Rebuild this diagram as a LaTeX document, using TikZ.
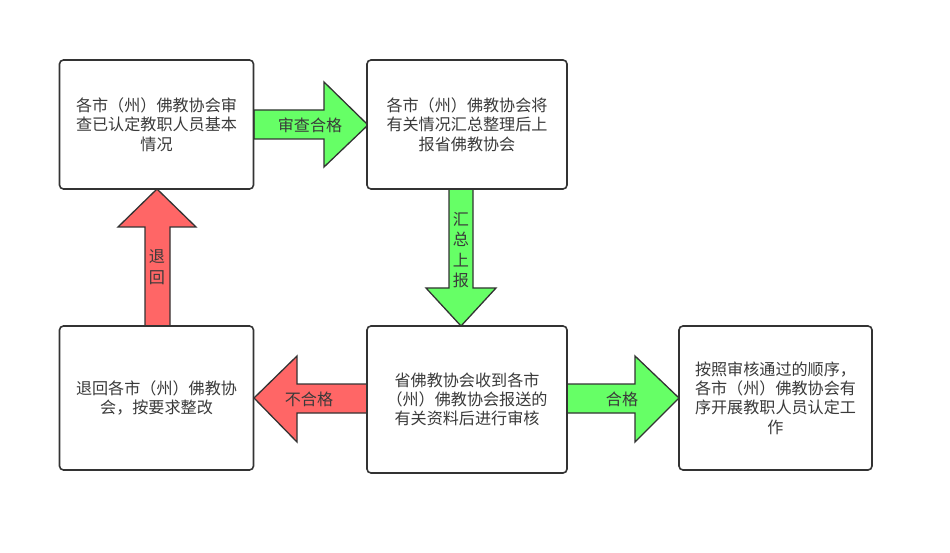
\documentclass[tikz,border=0pt]{standalone}
\usepackage{fontspec}
\newfontfamily\cjk{Noto Sans CJK SC}
\definecolor{linec}{HTML}{333333}
\definecolor{textc}{HTML}{3A3A3A}
\definecolor{greenf}{HTML}{66FF66}
\definecolor{redf}{HTML}{FF6666}
\begin{document}
\begin{tikzpicture}[x=1pt,y=-1pt,
  box/.style={draw=linec, line width=1.6pt, fill=white, rounded corners=4pt,
    rectangle, align=center, inner sep=0pt, text=textc,
    font=\cjk\fontsize{16.1}{19.3}\selectfont},
  barrow/.style={draw=linec, line width=1.3pt, line join=miter},
  lbl/.style={inner sep=0pt, text=textc, font=\cjk\fontsize{16.1}{20.5}\selectfont, align=center}]
\useasboundingbox (0,0) rectangle (950,553);
\fill[white] (0,0) rectangle (950,553);

% block arrows
\draw[barrow, fill=greenf] (254,110) -- (324,110) -- (324,82) -- (368,125) -- (324,167) -- (324,139) -- (254,139) -- cycle;
\draw[barrow, fill=greenf] (449,189) -- (449,288) -- (426,288) -- (461,326) -- (496,288) -- (473,288) -- (473,189) -- cycle;
\draw[barrow, fill=redf] (567,384) -- (297,384) -- (297,356) -- (254,398) -- (297,442) -- (297,413) -- (567,413) -- cycle;
\draw[barrow, fill=greenf] (567,384) -- (635,384) -- (635,356) -- (679,398) -- (635,442) -- (635,413) -- (567,413) -- cycle;
\draw[barrow, fill=redf] (145,326) -- (145,227) -- (118,227) -- (157,189) -- (196,227) -- (170,227) -- (170,326) -- cycle;

% boxes
\node[box, minimum width=194pt, minimum height=129pt] (A) at (156.5,124.5)
  {各市（州）佛教协会审\\查已认定教职人员基本\\情况};
\node[box, minimum width=200pt, minimum height=129pt] (B) at (467,124.5)
  {各市（州）佛教协会将\\有关情况汇总整理后上\\报省佛教协会};
\node[box, minimum width=194pt, minimum height=144pt] (C) at (156.5,398)
  {退回各市（州）佛教协\\会，按要求整改};
\node[box, minimum width=200pt, minimum height=147pt] (D) at (467,399.5)
  {省佛教协会收到各市\\（州）佛教协会报送的\\有关资料后进行审核};
\node[box, minimum width=193pt, minimum height=144pt] (E) at (775.5,398)
  {按照审核通过的顺序，\\各市（州）佛教协会有\\序开展教职人员认定工\\作};

% labels
\node[lbl] (l1) at (310,125) {审查合格};
\node[lbl] (l2) at (461,250) {汇\\总\\上\\报};
\node[lbl] (l3) at (309,399) {不合格};
\node[lbl] (l4) at (622,399) {合格};
\node[lbl] (l5) at (157,267) {退\\回};
\end{tikzpicture}
\end{document}
